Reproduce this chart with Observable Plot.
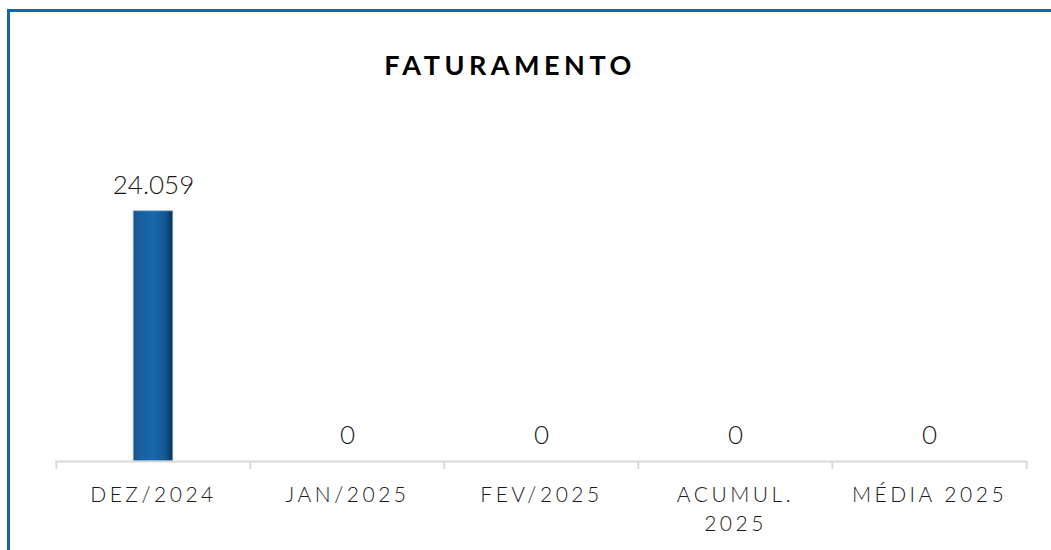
<!DOCTYPE html>
<html>
<head>
<meta charset="utf-8">
<script src="https://cdn.jsdelivr.net/npm/d3@7"></script>
<script src="https://cdn.jsdelivr.net/npm/@observablehq/plot@0.6"></script>
<style>
  html, body { margin: 0; padding: 0; background: #fff; overflow: hidden; }
  body { width: 1051px; height: 550px; position: relative; font-family: Lato, "Open Sans", sans-serif; }
  #frame { position: absolute; left: 7px; top: 9px; width: 1100px; height: 600px; border: 3px solid #1466a6; box-sizing: border-box; }
  #title { position: absolute; left: 0; width: 1020px; top: 48px; text-align: center; font-size: 27px; font-weight: 700; letter-spacing: 4.5px; color: #000; }
  #chart { position: absolute; left: 0; top: 0; }
  #chart svg [aria-label="x-axis tick label"] text { letter-spacing: 3.5px; }
</style>
</head>
<body>
<div id="frame"></div>
<div id="title">FATURAMENTO</div>
<div id="chart"></div>
<script>
const categories = ["DEZ/2024", "JAN/2025", "FEV/2025", "ACUMUL.\n2025", "MÉDIA 2025"];
const values = [24059, 0, 0, 0, 0];
const valueLabels = ["24.059", "0", "0", "0", "0"];

const data = categories.map((c, i) => ({cat: c, value: values[i], label: valueLabels[i]}));

const width = 1051, height = 550;
const marginLeft = 55, marginRight = 24, marginTop = 149, marginBottom = 89;
const band = (width - marginLeft - marginRight) / categories.length;

const chart = Plot.plot({
  width, height,
  marginLeft, marginRight, marginTop, marginBottom,
  style: {fontFamily: "Lato, 'Open Sans', sans-serif", fontWeight: 300, background: "transparent", overflow: "visible"},
  x: {domain: categories, padding: 0},
  y: {domain: [0, 30000], axis: null},
  marks: [
    Plot.barY(data, {x: "cat", y: "value", fill: "url(#barGrad)", stroke: "#8eb4e3", strokeWidth: 0.8, insetLeft: (band - 40) / 2, insetRight: (band - 40) / 2}),
    Plot.ruleY([0], {stroke: "#d9d9d9", strokeWidth: 2}),
    Plot.ruleX(categories, {x: d => d, dx: -band / 2, y1: 0, y2: 0, insetBottom: -8, stroke: "#d9d9d9", strokeWidth: 2}),
    Plot.ruleX([categories[categories.length - 1]], {x: d => d, dx: band / 2, y1: 0, y2: 0, insetBottom: -8, stroke: "#d9d9d9", strokeWidth: 2}),
    Plot.text(data, {x: "cat", y: "value", text: "label", dy: -26, fontSize: 26, fontWeight: 300, fill: "#1a1a1a"}),
    Plot.axisX({tickSize: 0, tickPadding: 20, fontSize: 21, fontWeight: 300, lineHeight: 1.38, color: "#1a1a1a", label: null})
  ]
});

const ns = "http://www.w3.org/2000/svg";
const defs = document.createElementNS(ns, "defs");
defs.innerHTML = `
<linearGradient id="barGrad" x1="0" x2="1" y1="0" y2="0">
  <stop offset="0" stop-color="#1d4f86"/>
  <stop offset="0.12" stop-color="#1a5d9c"/>
  <stop offset="0.5" stop-color="#1668ad"/>
  <stop offset="0.8" stop-color="#145a94"/>
  <stop offset="1" stop-color="#0d2f4f"/>
</linearGradient>`;
chart.insertBefore(defs, chart.firstChild);
document.getElementById("chart").appendChild(chart);
</script>
</body>
</html>
